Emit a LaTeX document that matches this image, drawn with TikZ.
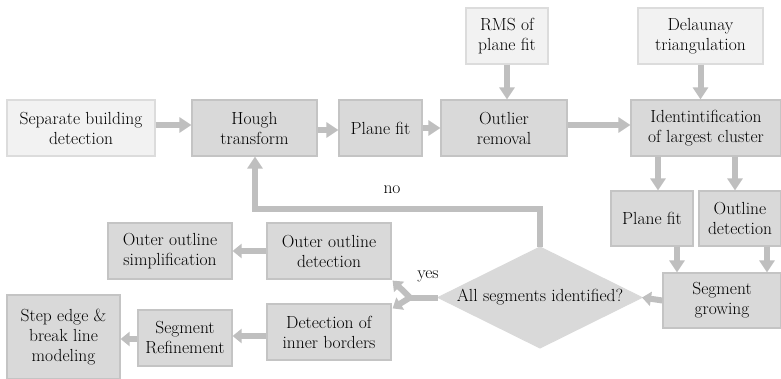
\documentclass[tikz,border=0pt]{standalone}
\usetikzlibrary{arrows.meta,calc}
\definecolor{boxdark}{HTML}{D9D9D9}
\definecolor{boxlight}{HTML}{F2F2F2}
\definecolor{edgedark}{HTML}{C4C4C4}
\definecolor{edgelight}{HTML}{DCDCDC}
\definecolor{arrowgray}{HTML}{BFBFBF}
\definecolor{textcol}{HTML}{000000}
\begin{document}
\begin{tikzpicture}[x=1pt,y=-1pt,
 box/.style={draw=edgedark, fill=boxdark, line width=1.2pt, align=center, inner sep=0pt, text=textcol, font=\fontsize{17.5}{20}\selectfont},
 lbox/.style={box, draw=edgelight, fill=boxlight},
 arr/.style={draw=arrowgray, line width=6pt, -{Triangle[width=15pt,length=12pt]}},
 sarr/.style={draw=arrowgray, line width=6pt, -{Triangle[width=14pt,length=9pt]}},
 lbl/.style={text=textcol, font=\fontsize{17.5}{20}\selectfont}]
\useasboundingbox (0,0) rectangle (781,379);
% top row
\node[lbox, minimum width=148pt, minimum height=56pt] (sbd) at (81,128) {Separate building\\detection};
\node[box, minimum width=125pt, minimum height=56pt] (hough) at (254.5,128) {Hough\\transform};
\node[box, minimum width=83pt, minimum height=56pt] (pf1) at (380.5,128) {Plane fit};
\node[box, minimum width=126pt, minimum height=56pt] (outl) at (504,128) {Outlier\\removal};
\node[lbox, minimum width=82pt, minimum height=56pt] (rms) at (507,36) {RMS of\\plane fit};
\node[lbox, minimum width=125pt, minimum height=56pt] (del) at (700.5,36) {Delaunay\\triangulation};
\node[box, minimum width=150pt, minimum height=56pt] (ident) at (706,128) {Identintification\\of largest cluster};
% right column
\node[box, minimum width=82pt, minimum height=55pt] (pf2) at (652,218.5) {Plane fit};
\node[box, minimum width=82pt, minimum height=55pt] (outd) at (740,218.5) {Outline\\detection};
\node[box, minimum width=118pt, minimum height=55pt] (seg) at (722,300.5) {Segment\\growing};
% decision
\coordinate (dt) at (540,247);
\coordinate (dr) at (642,297.5);
\coordinate (db) at (540,348);
\coordinate (dl) at (438,297.5);
\filldraw[fill=boxdark, draw=boxdark, line width=1pt] (dt) -- (dr) -- (db) -- (dl) -- cycle;
\node[lbl] (dia) at (540,297.5) {All segments identified?};
% left part
\node[box, minimum width=124pt, minimum height=56pt] (ood) at (329,251) {Outer outline\\detection};
\node[box, minimum width=124pt, minimum height=56pt] (oos) at (170,251) {Outer outline\\simplification};
\node[box, minimum width=124pt, minimum height=56pt] (dib) at (329,332) {Detection of\\inner borders};
\node[box, minimum width=94pt, minimum height=56pt] (sr) at (185,338) {Segment\\Refinement};
\node[box, minimum width=113pt, minimum height=84pt] (se) at (63.5,337) {Step edge \&\\break line\\modeling};
% arrows top row
\draw[arr] (sbd.east |- 0,125) -- (hough.west |- 0,125);
\draw[arr] (hough.east |- 0,130) -- (pf1.west |- 0,130);
\draw[arr] (pf1.east) -- (outl.west);
\draw[arr] (outl.east |- 0,125) -- (ident.west |- 0,125);
\draw[arr] (rms.south) -- (outl.north -| rms.south);
\draw[arr] (del.south) -- (ident.north -| del.south);
% right column arrows
\draw[arr] (ident.south -| 658,0) -- (pf2.north -| 658,0);
\draw[arr] (ident.south -| 735,0) -- (outd.north -| 735,0);
\draw[arr] (pf2.south -| 677,0) -- (seg.north -| 677,0);
\draw[arr] (outd.south -| 767,0) -- (seg.north -| 767,0);
\draw[sarr] (seg.west) -- (dr);
% no loop
\draw[arr, line join=miter] (dt) -- (540,209) -- (255,209) -- (hough.south -| 255,0);
\node[lbl] (no) at (392,190) {no};
% yes branch
\coordinate (yj) at (410,297.5);
\draw[draw=arrowgray, line width=6pt] (dl) -- (yj);
\draw[sarr] (yj) -- ($(ood.south east)+(1,1)$);
\draw[sarr] (yj) -- ($(dib.north east)+(1,5)$);
\node[lbl] (yes) at (428,276) {yes};
% left arrows
\draw[sarr] (ood.west) -- (oos.east);
\draw[sarr] (dib.west |- 0,336) -- (sr.east |- 0,336);
\draw[sarr] (sr.west |- 0,339) -- (se.east |- 0,339);
\end{tikzpicture}
\end{document}
